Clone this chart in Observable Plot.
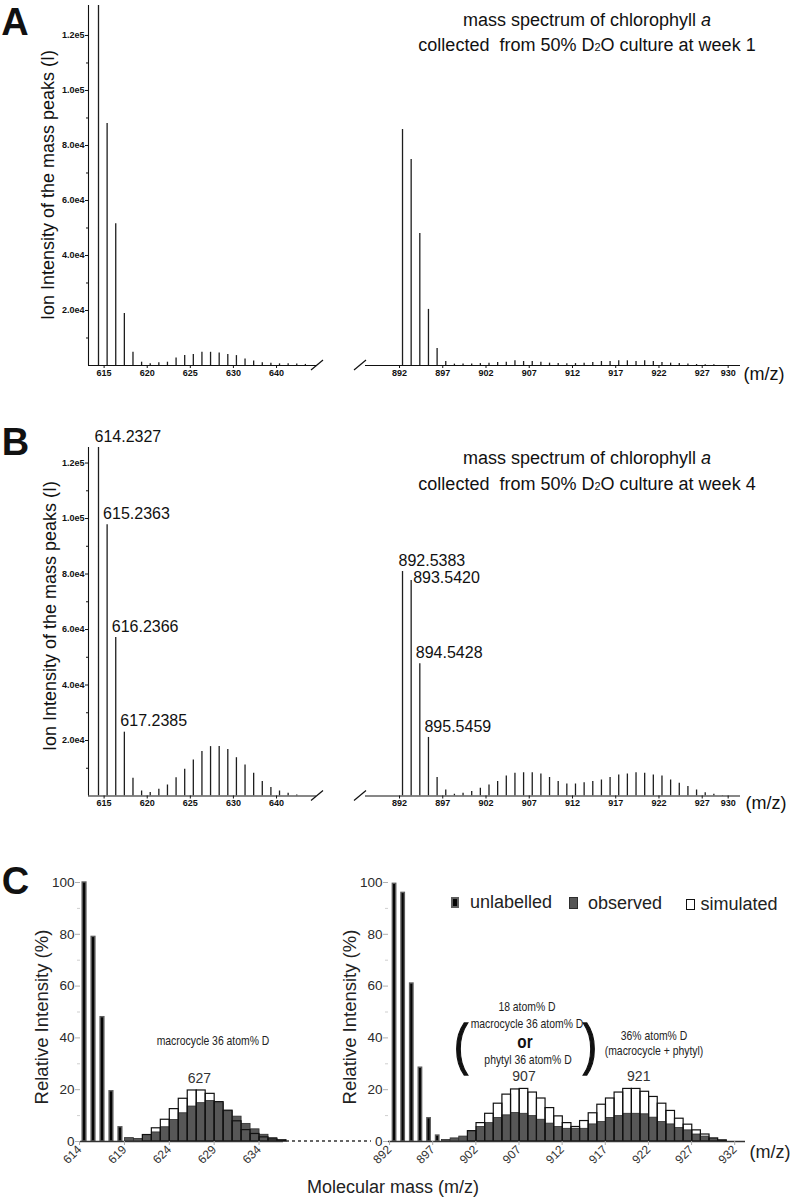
<!DOCTYPE html>
<html><head><meta charset="utf-8">
<script src="https://cdn.jsdelivr.net/npm/d3@7"></script>
<script src="https://cdn.jsdelivr.net/npm/@observablehq/plot@0.6"></script>
<style>
html,body{margin:0;padding:0;background:#fff;}
#fig{position:relative;width:794px;height:1200px;overflow:hidden;font-family:"Liberation Sans",Arial,Helvetica,sans-serif;color:#111;background:#fff;}
.t{position:absolute;white-space:nowrap;transform:translate(-50%,-50%);line-height:1;}
.ico{position:absolute;box-sizing:border-box;}
</style></head><body><div id="fig"></div>
<script>
// ---------------- DATA ----------------
// Panel A: week 1 ion intensities
const wk1LowMass  = [614,615,616,617,618,619,620,621,622,623,624,625,626,627,628,629,630,631,632,633,634,635,636,637,638];
const wk1LowInt   = [131000,88000,51500,18900,4800,1200,600,1000,1200,2700,3600,4000,4800,4800,4500,4000,3600,2400,1600,1000,850,600,600,500,400];
const wk1HighMass = [892,893,894,895,896,897,898,899,900,901,902,903,904,905,906,907,908,909,910,911,912,913,914,915,916,917,918,919,920,921,922,923,924,925,926,927,928];
const wk1HighInt  = [85800,74900,48000,20400,6200,1450,500,500,500,700,850,1100,1200,1700,1450,1450,1200,850,700,600,700,850,1100,1450,1450,1700,1700,1450,1700,1450,1100,850,700,500,350,250,250];
// Panel B: week 4 ion intensities
const wk4LowMass  = [614,615,616,617,618,619,620,621,622,623,624,625,626,627,628,629,630,631,632,633,634,635,636,637];
const wk4LowInt   = [125600,97800,57100,23000,6400,1800,1300,2400,4000,6600,9600,13000,16000,17800,17800,16800,13800,11200,8200,5200,3100,1800,1000,400];
const wk4HighMass = [892,893,894,895,896,897,898,899,900,901,902,903,904,905,906,907,908,909,910,911,912,913,914,915,916,917,918,919,920,921,922,923,924,925,926,927,928,929];
const wk4HighInt  = [80900,77700,47700,21100,6700,2200,600,1000,1600,2800,4000,5200,7200,8200,8400,8400,7900,6700,5200,4300,4300,4800,5200,5800,6700,7600,7900,8400,8200,7600,7200,5800,4600,3400,2200,1200,600,200];
// Peak labels (panel B)
const wk4LowLabelMass  = [614,615,616,617];
const wk4LowLabels     = ["614.2327","615.2363","616.2366","617.2385"];
const wk4HighLabelMass = [892,893,894,895];
const wk4HighLabels    = ["892.5383","893.5420","894.5428","895.5459"];
// Axis ticks (panels A, B)
const yTicks      = [20000,40000,60000,80000,100000,120000];
const yTickLabels = ["2.0e4","4.0e4","6.0e4","8.0e4","1.0e5","1.2e5"];
const yMinorTicks = [10000,30000,50000,70000,90000,110000];
const lowTicks      = [615,620,625,630,635];
const lowTickLabels = ["615","620","625","630","640"];
const highTicks      = [892,897,902,907,912,917,922,927,930];
const highTickLabels = ["892","897","902","907","912","917","922","927","930"];
// Panel C: relative intensity (%)
const unlabLowMass = [614,615,616,617,618];
const unlabLow     = [100,79,48,19.4,5.5];
const obsLowMass   = [619,620,621,622,623,624,625,626,627,628,629,630,631,632,633,634,635,636];
const obsLow       = [1.3,1.0,2.5,3.5,5.5,8.3,10.9,13.5,14.8,15.6,14.8,11.7,9.6,6.8,4.7,2.6,1.3,0.6];
const simLowMass   = [621,622,623,624,625,626,627,628,629,630,631,632,633,634,635,636];
const simLow       = [2.5,5.1,8.4,12.5,16.5,19.7,19.7,18.4,15.2,11.9,7.8,4.4,2.9,1.6,0.8,0.3];
const unlabHighMass = [892,893,894,895,896,897];
const unlabHigh     = [99.5,96,61,28.5,9,2.3];
const obsHighMass   = [898,899,900,901,902,903,904,905,906,907,908,909,910,911,912,913,914,915,916,917,918,919,920,921,922,923,924,925,926,927,928,929,930];
const obsHigh       = [0.6,1.2,1.9,4.0,5.6,7.1,9.1,10.1,11.0,10.7,9.8,8.4,6.9,5.6,4.9,4.9,4.9,6.6,7.5,9.1,9.8,10.7,10.7,10.5,9.2,7.5,6.6,5.2,4.3,2.7,1.9,0.9,0.4];
const simHighMass   = [901,902,903,904,905,906,907,908,909,910,911,912,913,914,915,916,917,918,919,920,921,922,923,924,925,926,927,928,929,930];
const simHigh       = [4.0,7.1,10.7,14.6,18.1,20.1,20.3,18.9,16.6,12.9,9.7,7.1,5.6,7.9,10.9,14.2,16.6,18.9,20.3,20.3,19.2,17.2,14.6,11.8,8.8,6.5,4.3,2.7,1.2,0.4];
const cYTicks = [0,20,40,60,80,100];
const cYMinor = [10,30,50,70,90];
const cLowTicks  = [614,619,624,629,634];
const cHighTicks = [892,897,902,907,912,917,922,927,932];
const cLowPeakLabels  = ["627"];  const cLowPeakAt  = [626.8];
const cHighPeakLabels = ["907","921"]; const cHighPeakAt = [907,920.3];

// ---------------- HELPERS ----------------
const FONT = '"Liberation Sans", Arial, Helvetica, sans-serif';
const fig = document.getElementById("fig");
function place(node, left, top){ node.style.position="absolute"; node.style.left=left+"px"; node.style.top=top+"px"; fig.appendChild(node); }
function txt(html, cx, cy, css){ const d=document.createElement("div"); d.className="t"; d.innerHTML=html; d.style.left=cx+"px"; d.style.top=cy+"px"; Object.assign(d.style, css||{}); fig.appendChild(d); return d; }
const zip = (ms, vs) => ms.map((m,i)=>({mz:m, v:vs[i]}));
const SVGNS = "http://www.w3.org/2000/svg";

function breakMark(xVal, shift){
  return (index, scales) => {
    const x = scales.x(xVal) + shift, y = scales.y(0);
    const p = document.createElementNS(SVGNS, "path");
    p.setAttribute("d", `M${x-6},${y+5}L${x+6},${y-5}`);
    p.setAttribute("stroke", "#111"); p.setAttribute("stroke-width", "1.2"); p.setAttribute("fill", "none");
    return p;
  };
}

function spectrum(o){
  const rows = zip(o.masses, o.values);
  const fmt = new Map(o.ticks.map((t,i)=>[t, o.tickText[i]]));
  const yfmt = new Map(yTicks.map((t,i)=>[t, yTickLabels[i]]));
  const marks = [
    Plot.ruleX(rows, {x:"mz", y1:0, y2:"v", stroke:"#1e1e1e", strokeWidth:1.3, clip:true}),
    Plot.ruleY([0], {stroke:"#111", strokeWidth:1.1}),
    Plot.axisX({ticks:o.ticks, tickFormat:d=>fmt.get(d), tickSize:3, tickPadding:1, fontSize:9, fontWeight:"bold", dx:-3, label:null, stroke:"#111", fill:"#111"})
  ];
  if (o.side === "left"){
    marks.push(Plot.ruleX([o.domain[0]], {stroke:"#111", strokeWidth:1.1}));
    marks.push(Plot.axisY({ticks:yTicks, tickFormat:d=>yfmt.get(d), tickSize:3, tickPadding:1, fontSize:9, fontWeight:"bold", label:null, stroke:"#111", fill:"#111"}));
    marks.push(Plot.axisY({ticks:yMinorTicks, tickFormat:()=>"", tickSize:2, label:null, stroke:"#111"}));
    marks.push(breakMark(o.domain[1], 1));
  } else {
    marks.push(breakMark(o.domain[0], -5));
  }
  if (o.labelMass){
    const lab = o.labelMass.map((m,i)=>({mz:m, v:o.values[o.masses.indexOf(m)], label:o.labels[i]}));
    marks.push(Plot.text(lab.filter((d,i)=>i!==1 || o.side==="left"), {x:"mz", y:"v", text:"label", textAnchor:"start", dx:-4, dy:-11, fontSize:16, fill:"#111"}));
    if (o.side === "right") marks.push(Plot.text(lab.filter((d,i)=>i===1), {x:"mz", y:"v", text:"label", textAnchor:"start", dx:2, dy:-3, fontSize:16, fill:"#111"}));
  }
  return Plot.plot({
    width:o.w, height:o.h, marginTop:o.mt, marginBottom:o.mb, marginLeft:o.ml, marginRight:o.mr,
    x:{domain:o.domain, axis:null}, y:{domain:[0,o.yTop], axis:null},
    style:{fontFamily:FONT, background:"transparent", overflow:"visible"},
    marks
  });
}

function bars(o){
  const unl = zip(o.unlMass, o.unl), obs = zip(o.obsMass, o.obs), sim = zip(o.simMass, o.sim);
  const simMap = new Map(sim.map(d=>[d.mz, d.v]));
  const ann = o.annAt.map((a,i)=>({mz:a, label:o.annLabels[i], v:simMap.get(Math.round(a))}));
  const marks = [
    Plot.rectY(obs, {x1:d=>d.mz-0.5, x2:d=>d.mz+0.5, y1:0, y2:"v", fill:"#575757", stroke:"#2e2e2e", strokeWidth:0.8}),
    Plot.rectY(sim, {x1:d=>d.mz-0.5, x2:d=>d.mz+0.5, y1:0, y2:"v", fill:"none", stroke:"#111", strokeWidth:1.2}),
    Plot.rectY(unl, {x1:d=>d.mz-0.5, x2:d=>d.mz+0.5, y1:0, y2:"v", fill:"#050505", stroke:"#5e5e5e", strokeWidth:1.4, insetLeft:2.6, insetRight:2.6}),
    Plot.ruleY([0], {stroke:"#333", strokeWidth:1.5}),
    Plot.axisY({ticks:cYTicks, tickSize:5, tickPadding:1, fontSize:13.5, label:null, stroke:"#b0b0b0", fill:"#2a2a2a"}),
    Plot.axisY({ticks:cYMinor, tickFormat:()=>"", tickSize:3, label:null, stroke:"#cfcfcf"}),
    Plot.axisX({ticks:o.ticks, tickSize:4, tickRotate:-45, tickPadding:2, fontSize:12, label:null, stroke:"#aaa", fill:"#333", dx:-5}),
    Plot.text(ann, {x:"mz", y:"v", text:"label", dy:-12, fontSize:14, fill:"#333"})
  ];
  if (o.dashed){
    marks.push((index, scales, values, dims) => {
      const y = scales.y(0);
      const l = document.createElementNS(SVGNS, "line");
      l.setAttribute("x1", 3); l.setAttribute("x2", dims.marginLeft - 17);
      l.setAttribute("y1", y); l.setAttribute("y2", y);
      l.setAttribute("stroke", "#333"); l.setAttribute("stroke-width", "1.5"); l.setAttribute("stroke-dasharray", "3,3");
      return l;
    });
  }
  return Plot.plot({
    width:o.w, height:o.h, marginTop:o.mt, marginBottom:o.mb, marginLeft:o.ml, marginRight:o.mr,
    x:{domain:o.domain, axis:null}, y:{domain:[0,100], axis:null},
    style:{fontFamily:FONT, background:"transparent", overflow:"visible"},
    marks
  });
}

// ---------------- PANEL A ----------------
place(spectrum({masses:wk1LowMass, values:wk1LowInt, domain:[612.84,639.29], yTop:130900, ticks:lowTicks, tickText:lowTickLabels, side:"left",
  w:330, h:385, mt:5, mb:20, ml:88, mr:14}), 0, 0);
place(spectrum({masses:wk1HighMass, values:wk1HighInt, domain:[887.72,931.08], yTop:130900, ticks:highTicks, tickText:highTickLabels, side:"right",
  w:464, h:385, mt:5, mb:20, ml:35, mr:54}), 330, 0);
// ---------------- PANEL B ----------------
place(spectrum({masses:wk4LowMass, values:wk4LowInt, domain:[612.84,639.29], yTop:125600, ticks:lowTicks, tickText:lowTickLabels, side:"left",
  labelMass:wk4LowLabelMass, labels:wk4LowLabels,
  w:330, h:385, mt:20, mb:16.5, ml:88, mr:14}), 0, 427);
place(spectrum({masses:wk4HighMass, values:wk4HighInt, domain:[887.72,931.08], yTop:125600, ticks:highTicks, tickText:highTickLabels, side:"right",
  labelMass:wk4HighLabelMass, labels:wk4HighLabels,
  w:464, h:385, mt:20, mb:16.5, ml:35, mr:54}), 330, 427);
// ---------------- PANEL C ----------------
place(bars({unlMass:unlabLowMass, unl:unlabLow, obsMass:obsLowMass, obs:obsLow, simMass:simLowMass, sim:simLow,
  annAt:cLowPeakAt, annLabels:cLowPeakLabels, ticks:cLowTicks, domain:[613.55,636.17],
  w:290, h:340, mt:22, mb:59, ml:80, mr:7}), 0, 860);
place(bars({unlMass:unlabHighMass, unl:unlabHigh, obsMass:obsHighMass, obs:obsHigh, simMass:simHighMass, sim:simHigh,
  annAt:cHighPeakAt, annLabels:cHighPeakLabels, ticks:cHighTicks, domain:[891.3,932.67], dashed:true,
  w:511, h:340, mt:22, mb:59, ml:105, mr:49}), 283, 860);

// ---------------- TEXT ----------------
const big = {fontSize:"38px", fontWeight:"bold", lineHeight:"0.8"};
txt("A", 15, 22, big); txt("B", 15.5, 442, big); txt("C", 15.5, 881, big);
const rot = "translate(-50%,-50%) rotate(-90deg)";
txt("Ion Intensity of the mass peaks (I)", 48, 185, {fontSize:"18px", transform:rot});
txt("Ion Intensity of the mass peaks (I)", 50, 616, {fontSize:"18px", transform:rot});
const sub2 = 'D<span style="font-size:11px">2</span>O';
txt('mass spectrum of chlorophyll <i>a</i>', 587, 20, {fontSize:"18px"});
txt('collected&nbsp; from 50% '+sub2+' culture at week 1', 587, 45, {fontSize:"18px"});
txt('mass spectrum of chlorophyll <i>a</i>', 587, 458, {fontSize:"18px"});
txt('collected&nbsp; from 50% '+sub2+' culture at week 4', 587, 484, {fontSize:"18px"});
txt("(m/z)", 764, 374, {fontSize:"18px"});
txt("(m/z)", 766, 803, {fontSize:"18px"});
txt("(m/z)", 770, 1152, {fontSize:"18px", color:"#222"});
txt("Molecular mass (m/z)", 393, 1187, {fontSize:"18px", color:"#222"});
txt("Relative Intensity (%)", 42, 1017, {fontSize:"18.5px", color:"#222", transform:rot});
txt("Relative Intensity (%)", 350, 1017, {fontSize:"18.5px", color:"#222", transform:rot});
// annotations (condensed lettering)
const narrowT = "translate(-50%,-50%) scaleX(0.8)";
const nar = {fontSize:"13px", color:"#222", transform:narrowT, lineHeight:"0.85"};
txt("macrocycle 36 atom% D", 213, 1041, nar);
txt("18 atom% D", 527, 1007, nar);
txt("macrocycle 36 atom% D", 527, 1024, nar);
txt("or", 525, 1042, {fontSize:"17px", fontWeight:"bold", color:"#111", transform:"translate(-50%,-50%) scale(0.9,1.1)", lineHeight:"0.7"});
txt("phytyl 36 atom% D", 528, 1060, nar);
const paren = {fontSize:"56px", color:"#111", transform:"translate(-50%,-50%) scale(0.75,1)", lineHeight:"1", WebkitTextStroke:"1.4px #111"};
txt("(", 461, 1044, paren);
txt(")", 590, 1044, paren);
txt("36% atom% D", 654, 1036, nar);
txt("(macrocycle + phytyl)", 654, 1051, nar);
// legend
function icon(l, t, w, h, css){ const d=document.createElement("div"); d.className="ico"; d.style.left=l+"px"; d.style.top=t+"px"; d.style.width=w+"px"; d.style.height=h+"px"; Object.assign(d.style, css); fig.appendChild(d); }
icon(451, 897, 8, 11, {background:"#050505", border:"2px solid #5e5e5e"});
txt("unlabelled", 511, 902, {fontSize:"18px", color:"#222"});
icon(569, 897, 9, 12, {background:"#575757", border:"1px solid #2e2e2e"});
txt("observed", 625, 903, {fontSize:"18px", color:"#222"});
icon(686, 899, 9, 11, {background:"#fff", border:"1px solid #111"});
txt("simulated", 739, 904, {fontSize:"18px", color:"#222"});
</script></body></html>
